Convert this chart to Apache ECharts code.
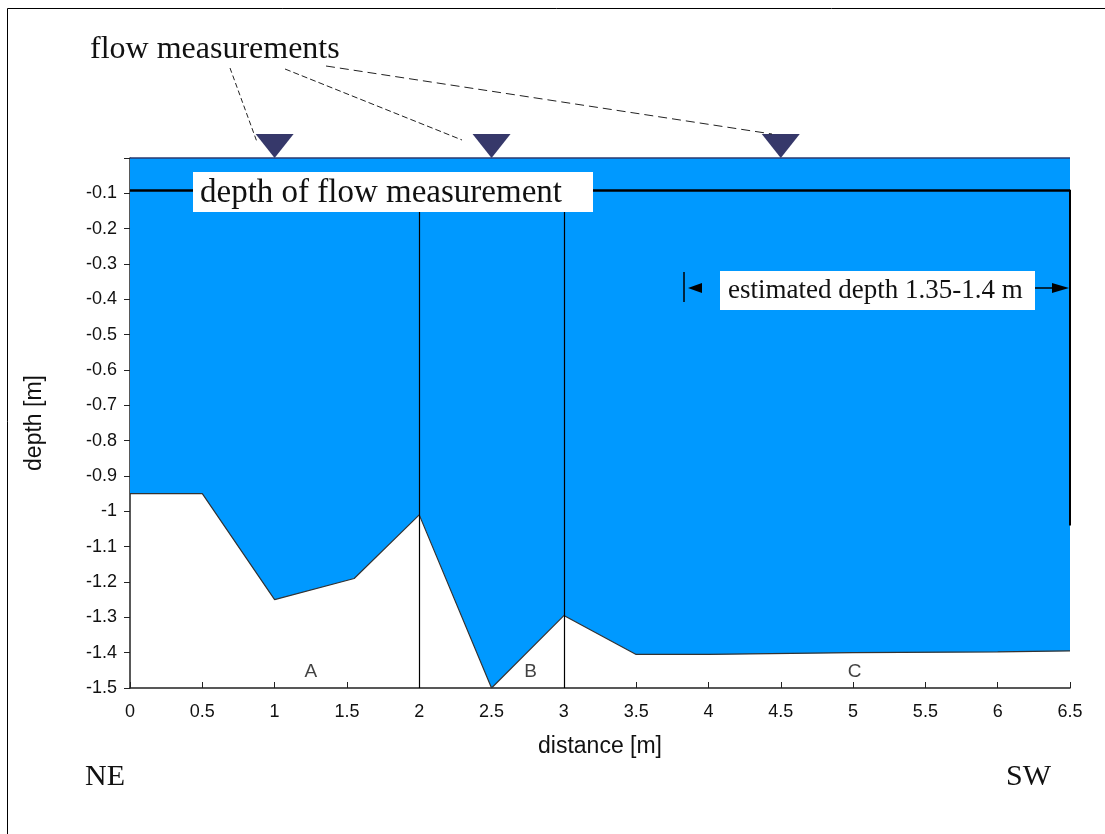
<!DOCTYPE html>
<html>
<head>
<meta charset="utf-8">
<script src="https://cdn.jsdelivr.net/npm/echarts@6/dist/echarts.min.js"></script>
<style>
html,body{margin:0;padding:0;background:#fff;}
#chart{width:1105px;height:834px;}
</style>
</head>
<body>
<div id="chart"></div>
<script>
// ---- data ----
const distance = [0, 0.5, 1, 1.55, 2, 2.5, 3, 3.5, 4, 5, 6, 6.5];
const bedDepth = [-0.95, -0.95, -1.25, -1.19, -1.01, -1.5, -1.295, -1.405, -1.405, -1.4, -1.398, -1.395];
const measurementX = [1, 2.5, 4.5];
const measurementDepth = -0.09;
const dividerX = [2, 3];
const regionNames = ['A', 'B', 'C'];
const regionX = [1.25, 2.77, 5.01];
const regionY = [-1.455, -1.455, -1.455];
const xTicks = [0, 0.5, 1, 1.5, 2, 2.5, 3, 3.5, 4, 4.5, 5, 5.5, 6, 6.5];
const yMin = -1.5, yMax = 0, yStep = 0.1;

const SANS = '"Liberation Sans", Arial, sans-serif';
const SERIF = '"Liberation Serif", "Times New Roman", serif';

const chart = echarts.init(document.getElementById('chart'));

const bedData = distance.map((d, i) => [d, bedDepth[i]]);
const dividerLines = dividerX.map(x => [{coord: [x, yMin]}, {coord: [x, measurementDepth]}]);

const option = {
  animation: false,
  backgroundColor: '#ffffff',
  grid: {left: 130, right: 35, top: 158, bottom: 146, containLabel: false},
  xAxis: {
    type: 'value', min: 0, max: 6.5, interval: 0.5,
    name: 'distance [m]', nameLocation: 'middle', nameGap: 47,
    nameTextStyle: {fontFamily: SANS, fontSize: 23, color: '#111'},
    axisLine: {show: true, onZero: false, lineStyle: {color: '#222', width: 1.5}},
    axisTick: {show: true, inside: true, length: 6, lineStyle: {color: '#222'}},
    axisLabel: {fontFamily: SANS, fontSize: 18, color: '#111', margin: 15,
      formatter: v => String(parseFloat(v.toFixed(1)))},
    splitLine: {show: false}
  },
  yAxis: {
    type: 'value', min: yMin, max: yMax, interval: yStep,
    name: 'depth [m]', nameLocation: 'middle', nameGap: 84,
    nameTextStyle: {fontFamily: SANS, fontSize: 23, color: '#111'},
    axisLine: {show: true, onZero: false, lineStyle: {color: '#222', width: 1.5}},
    axisTick: {show: true, inside: false, length: 6, lineStyle: {color: '#222'}},
    axisLabel: {fontFamily: SANS, fontSize: 18, color: '#111', margin: 13,
      formatter: v => (Math.abs(v) < 1e-9 ? '' : String(parseFloat(v.toFixed(1))))},
    splitLine: {show: false}
  },
  series: [
    {
      name: 'water', type: 'line', data: bedData, symbol: 'none', z: 2,
      lineStyle: {color: '#333', width: 1.2},
      areaStyle: {color: '#0099ff', origin: 'end', opacity: 1},
      markLine: {
        silent: true, symbol: 'none', animation: false, label: {show: false},
        data: [
          [{coord: [0, measurementDepth], lineStyle: {color: '#000', width: 2.5, type: 'solid'}},
           {coord: [6.5, measurementDepth]}],
          [{coord: [0, yMax], lineStyle: {color: '#2a3a70', width: 1.5, type: 'solid'}},
           {coord: [6.5, yMax]}],
          [{coord: [6.5, measurementDepth], lineStyle: {color: '#000', width: 2, type: 'solid'}},
           {coord: [6.5, -1.04]}]
        ].concat(dividerLines.map(p => [
          Object.assign({}, p[0], {lineStyle: {color: '#000', width: 1.2, type: 'solid'}}), p[1]
        ]))
      }
    },
    {
      name: 'measurements', type: 'scatter', clip: false, z: 5,
      data: measurementX.map(x => [x, yMax]),
      symbol: 'triangle', symbolRotate: 180, symbolSize: [38, 24], symbolOffset: [0, '-50%'],
      itemStyle: {color: '#36386a', opacity: 1}
    },
    {
      name: 'regions', type: 'scatter', z: 5,
      data: regionNames.map((n, i) => ({name: n, value: [regionX[i], regionY[i]]})),
      symbolSize: 0,
      label: {show: true, position: 'inside', formatter: p => p.name,
        fontFamily: SANS, fontSize: 19, color: '#111'}
    }
  ],
  graphic: [
    {type: 'rect', z: 0, shape: {x: 7.5, y: 8.5, width: 1200, height: 1000},
     style: {fill: 'none', stroke: '#000', lineWidth: 1}},
    {type: 'text', z: 100, x: 90, y: 50,
     style: {text: 'flow measurements', font: '32px ' + SERIF, fill: '#111', verticalAlign: 'middle'}},
    {type: 'line', z: 100, shape: {x1: 230, y1: 68, x2: 257, y2: 142},
     style: {stroke: '#222', lineWidth: 1, lineDash: [5, 3]}},
    {type: 'line', z: 100, shape: {x1: 285, y1: 69, x2: 462, y2: 140},
     style: {stroke: '#222', lineWidth: 1, lineDash: [6, 3]}},
    {type: 'line', z: 100, shape: {x1: 326, y1: 66, x2: 772, y2: 134},
     style: {stroke: '#222', lineWidth: 1, lineDash: [9, 5]}},
    {type: 'rect', z: 100, shape: {x: 193, y: 172, width: 400, height: 40},
     style: {fill: '#fff'}},
    {type: 'text', z: 101, x: 200, y: 193,
     style: {text: 'depth of flow measurement', font: '33px ' + SERIF, fill: '#111', verticalAlign: 'middle'}},
    {type: 'rect', z: 100, shape: {x: 720, y: 271, width: 315, height: 39},
     style: {fill: '#fff'}},
    {type: 'text', z: 101, x: 728, y: 291,
     style: {text: 'estimated depth 1.35-1.4 m', font: '27px ' + SERIF, fill: '#111', verticalAlign: 'middle'}},
    {type: 'line', z: 100, shape: {x1: 684, y1: 272, x2: 684, y2: 302},
     style: {stroke: '#000', lineWidth: 1.5}},
    {type: 'polygon', z: 100, shape: {points: [[688, 288], [702, 283], [702, 293]]},
     style: {fill: '#000'}},
    {type: 'line', z: 100, shape: {x1: 1035, y1: 288, x2: 1056, y2: 288},
     style: {stroke: '#000', lineWidth: 1.5}},
    {type: 'polygon', z: 100, shape: {points: [[1069, 288], [1052, 283], [1052, 293]]},
     style: {fill: '#000'}},
    {type: 'text', z: 100, x: 85, y: 777,
     style: {text: 'NE', font: '30px ' + SERIF, fill: '#111', verticalAlign: 'middle'}},
    {type: 'text', z: 100, x: 1006, y: 777,
     style: {text: 'SW', font: '30px ' + SERIF, fill: '#111', verticalAlign: 'middle'}}
  ]
};
chart.setOption(option);
</script>
</body>
</html>
